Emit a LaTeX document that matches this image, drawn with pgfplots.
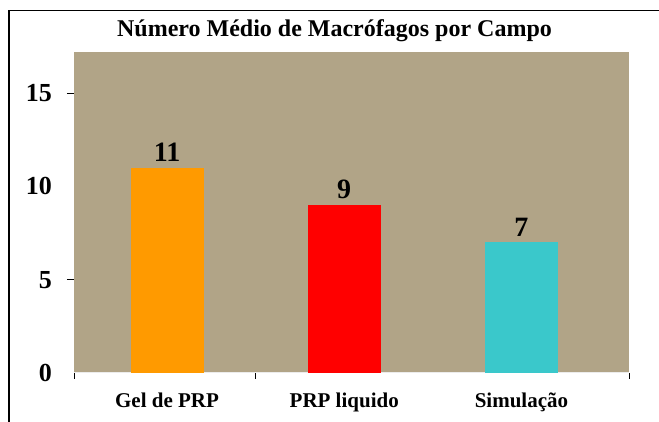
\documentclass[border=0pt]{standalone}
\usepackage{fontspec}
\setmainfont{Liberation Serif}
\usepackage{pgfplots}
\pgfplotsset{compat=1.18}
\definecolor{bgtan}{HTML}{B1A487}
\definecolor{barorange}{HTML}{FF9A00}
\definecolor{barred}{HTML}{FF0000}
\definecolor{barcyan}{HTML}{3AC8CB}
\begin{document}
\begin{tikzpicture}[x=1pt,y=1pt]
\useasboundingbox (0,0) rectangle (659,422);
\draw[line width=1.5pt] (9,-5) -- (9,411.5) -- (665,411.5);
\node[anchor=base, inner sep=0pt, font=\fontsize{24}{28}\selectfont\bfseries] at (334.5,385) {Número Médio de Macrófagos por Campo};
\begin{axis}[
  at={(74pt,49pt)}, anchor=south west,
  scale only axis, width=555pt, height=321pt,
  xmin=-0.525, xmax=2.607, ymin=0, ymax=17.2,
  axis background/.style={fill=bgtan},
  axis lines*=left,
  x axis line style={draw=gray!15, line width=1pt},
  y axis line style={draw=none},
  xtick={0,1,2},
  xticklabels={Gel de PRP, PRP liquido, Simulação},
  ytick={0,5,10,15},
  major tick length=0pt,
  /pgf/number format/assume math mode=true,
  xticklabel style={anchor=base, inner sep=0pt, yshift=-35pt, font=\fontsize{21}{24}\selectfont\bfseries},
  yticklabel style={anchor=east, inner sep=0pt, xshift=-22pt, font=\fontsize{26}{28}\selectfont\bfseries},
  extra x ticks={-0.525,0.5,2.607},
  extra x tick labels={},
  extra x tick style={major tick length=6pt, tick align=outside, tick style={black, line width=0.8pt}},
  extra y ticks={5,15},
  extra y tick labels={},
  extra y tick style={major tick length=7pt, tick align=outside, tick style={black, line width=0.8pt}},
  nodes near coords,
  every node near coord/.append style={font=\fontsize{28}{30}\selectfont\bfseries, anchor=south, inner sep=0pt, yshift=6pt, text=black},
]
\addplot[ybar, bar width=73pt, bar shift=0pt, fill=barorange, draw=none] coordinates {(0,11)};
\addplot[ybar, bar width=73pt, bar shift=0pt, fill=barred, draw=none] coordinates {(1,9)};
\addplot[ybar, bar width=73pt, bar shift=0pt, fill=barcyan, draw=none] coordinates {(2,7)};
\end{axis}
\end{tikzpicture}
\end{document}
